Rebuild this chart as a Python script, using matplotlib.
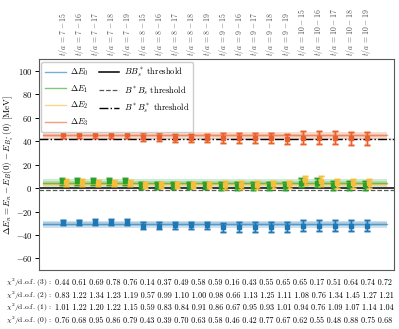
import matplotlib
matplotlib.use('Agg')
from matplotlib import pyplot as plt
import numpy as np

plt.rcParams['font.family'] = 'serif'
plt.rcParams['font.serif'] = ['cmr10', 'DejaVu Serif']
plt.rcParams['mathtext.fontset'] = 'cm'
plt.rcParams['axes.unicode_minus'] = False

t_min = [7, 8, 9, 10]
t_max = [15, 16, 17, 18, 19]
fit_labels = [r'$t/a\, =\, %d - %d$' % (a, b) for a in t_min for b in t_max]

dE0 = [-29.3, -29.3, -29.0, -29.0, -29.0, -32.0, -32.0, -31.8, -31.8, -31.8,
       -33.6, -33.4, -33.4, -33.0, -33.0, -32.2, -32.2, -32.2, -32.2, -32.2]
err0 = [2.3] * 5 + [2.7] * 5 + [4.2] * 5 + [4.7] * 5
dE1 = [6.0, 6.0, 6.0, 6.0, 6.0, 2.6, 2.6, 2.6, 2.6, 2.6,
       2.0, 2.0, 2.0, 1.8, 1.8, 4.5, 4.5, 2.6, 2.6, 2.6]
err1 = [3.0] * 5 + [3.0] * 5 + [3.2] * 5 + [3.8] * 5
dE2 = [4.8, 4.8, 4.6, 4.6, 4.6, 2.8, 2.8, 2.8, 2.8, 2.8,
       2.8, 2.8, 2.8, 3.1, 3.1, 6.6, 6.0, 4.0, 4.0, 4.0]
err2 = [2.6] * 5 + [2.8] * 5 + [3.2] * 5 + [4.0] * 5
dE3 = [46.0, 46.0, 46.0, 46.0, 46.0, 43.2, 43.2, 43.0, 43.0, 43.0,
       42.8, 42.6, 42.6, 42.4, 42.2, 43.0, 43.0, 43.0, 42.6, 42.6]
err3 = [3.0] * 5 + [3.4] * 5 + [4.2] * 5 + [5.5] * 5

# final fit results (center, half width)
band_mid = [-31.0, 4.5, 3.5, 45.0]
band_err = [3.0, 3.2, 2.0, 2.8]

thr_BBs_star = 0.0
thr_BstarBs = -1.5
thr_BstarBs_star = 42.0

chi2 = {
    3: [0.44, 0.61, 0.69, 0.78, 0.76, 0.14, 0.37, 0.49, 0.58, 0.59, 0.16, 0.43, 0.55, 0.65, 0.65, 0.17, 0.51, 0.64, 0.74, 0.72],
    2: [0.83, 1.22, 1.34, 1.23, 1.19, 0.57, 0.99, 1.10, 1.00, 0.98, 0.66, 1.13, 1.25, 1.11, 1.08, 0.76, 1.34, 1.45, 1.27, 1.21],
    1: [1.01, 1.22, 1.20, 1.22, 1.15, 0.59, 0.83, 0.84, 0.91, 0.86, 0.67, 0.95, 0.93, 1.01, 0.94, 0.76, 1.09, 1.07, 1.14, 1.04],
    0: [0.76, 0.68, 0.95, 0.86, 0.79, 0.43, 0.39, 0.70, 0.63, 0.58, 0.46, 0.42, 0.77, 0.67, 0.62, 0.55, 0.48, 0.88, 0.75, 0.68],
}

colors = ['#1f77b4', '#2ca02c', '#f6be3a', '#e8602c']
series = [(dE0, err0, 0.0), (dE1, err1, -0.12), (dE2, err2, 0.14), (dE3, err3, 0.0)]

fig = plt.figure(figsize=(3.99, 3.29), dpi=100)
ax = fig.add_axes([0.097, 0.179, 0.890, 0.641])

x = np.arange(len(fit_labels))
x0, x1 = -1.25, 20.3

# threshold lines
ax.axhspan(thr_BstarBs_star - 0.8, thr_BstarBs_star + 0.8, color='0.75', alpha=0.35, lw=0)
ax.axhline(thr_BBs_star, color='k', lw=1.1, ls='-', label=r'$BB_s^*$ threshold')
ax.axhline(thr_BstarBs, color='0.35', lw=0.9, ls='--', label=r'$B^*B_s$ threshold')
ax.axhline(thr_BstarBs_star, color='k', lw=1.0, ls='-.', label=r'$B^*B_s^*$ threshold')

handles_E = []
for n, ((y, e, dx), c) in enumerate(zip(series, colors)):
    m, w = band_mid[n], band_err[n]
    ax.fill_between([x0, x1], m - w, m + w, color=c, alpha=0.22, lw=0)
    ax.fill_between([x0, x1], m - w * 0.55, m + w * 0.55, color=c, alpha=0.18, lw=0)
    h, = ax.plot([x0, x1], [m, m], color=c, lw=1.0, alpha=0.6, label=r'$\Delta E_%d$' % n)
    handles_E.append(h)
    ax.errorbar(x + dx, y, yerr=e, fmt='none', ecolor=c, elinewidth=2.6, alpha=0.3, capsize=2.2, capthick=2.2)
    ax.errorbar(x + dx, y, yerr=e, fmt='s', color=c, ms=2.2, elinewidth=1.0, capsize=2.0, capthick=1.0)

ax.set_xlim(-1.55, 20.7)
ax.set_ylim(-70, 110)

ax.xaxis.tick_top()
ax.set_xticks(x)
ax.set_xticklabels(fit_labels, rotation=90, fontsize=5.6, color='0.3')
ax.tick_params(axis='x', length=0, pad=2)

yt = list(range(-60, 101, 20))
ax.set_yticks(yt)
ax.set_yticklabels([r'$%d$' % v for v in yt], fontsize=6.1)
ax.tick_params(axis='y', length=3, width=0.7, pad=1.5)
ax.set_ylabel(r'$\Delta E_n = E_n - E_B(0) - E_{B_s^*}(0)$ [MeV]', fontsize=6.5)
ax.yaxis.set_label_coords(-0.064, 0.5)

for s in ax.spines.values():
    s.set_color('0.35')

handles_T = [l for l in ax.get_lines() if l.get_label().endswith('threshold')]
ax.legend(handles=handles_E + handles_T + [plt.Line2D([], [], alpha=0)],
          labels=[h.get_label() for h in handles_E] + [h.get_label() for h in handles_T] + [''],
          ncol=2, loc='upper left', fontsize=6.2, handlelength=2.4, labelspacing=0.6,
          columnspacing=1.2, handletextpad=0.5, borderpad=0.45, framealpha=1.0,
          edgecolor='0.8', borderaxespad=0.3)

ys = [0.140, 0.102, 0.064, 0.026]
for yy, k in zip(ys, [3, 2, 1, 0]):
    fig.text(0.132, yy, r'$\chi^2$/d.o.f. (%d) :' % k, fontsize=5.4, va='center', ha='right')
    fig.text(0.138, yy, ' '.join('%.2f' % v for v in chi2[k]), fontsize=5.8, va='center')

plt.savefig('out.png', dpi=100)
